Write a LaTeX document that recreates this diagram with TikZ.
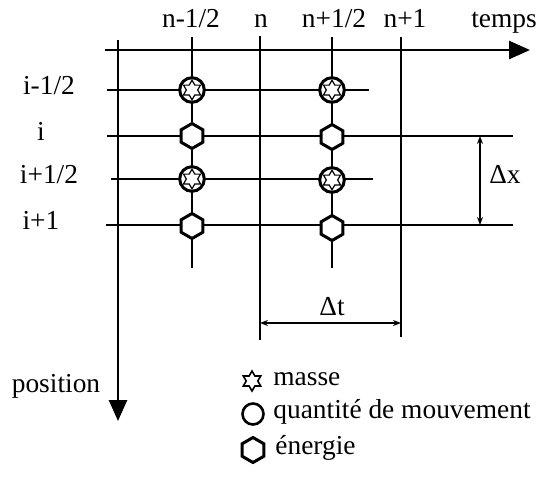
\documentclass[tikz,border=0pt]{standalone}
\usepackage{fontspec}
\setmainfont{Liberation Serif}
\usetikzlibrary{arrows.meta,shapes.geometric}

\begin{document}
\begin{tikzpicture}[
  x=0.5pt, y=-0.5pt, >=Stealth,
  lbl/.style={font=\fontsize{13.7}{16}\selectfont, inner sep=0pt},
  thickline/.style={line width=1.3pt},
  thinline/.style={line width=0.65pt},
  axis/.style={line width=1.3pt, -{Triangle[length=10.5pt, width=9pt]}},
  dimline/.style={line width=0.75pt, {Stealth[length=4pt, width=3pt]}-{Stealth[length=4pt, width=3pt]}},
  qdm/.style={circle, draw, fill=white, line width=1.5pt, minimum size=12.3pt, inner sep=0pt},
  masse/.style={star, star points=6, star point ratio=1.73, draw, line width=0.6pt, minimum size=9.8pt, inner sep=0pt},
  energie/.style={regular polygon, regular polygon sides=6, shape border rotate=30, draw, fill=white, line width=1.5pt, minimum size=12.5pt, inner sep=0pt}
]
  \useasboundingbox (0,0) rectangle (542,479);

  % ==================== AXES ====================
  \coordinate (t0) at (105,50);
  \coordinate (t1) at (530,50);
  \coordinate (p0) at (118,40);
  \coordinate (p1) at (118,421);
  \draw[axis] (t0) -- (t1);
  \draw[axis] (p0) -- (p1);

  % time steps n and n+1
  \coordinate (n0) at (260,36);
  \coordinate (n1) at (260,340);
  \coordinate (np0) at (401,37);
  \coordinate (np1) at (401,337);
  \draw[thickline] (n0) -- (n1);
  \draw[thickline] (np0) -- (np1);

  % half steps
  \draw[thinline] (192,37) -- (192,268);
  \draw[thinline] (332,37) -- (332,268);

  % ==================== POSITIONS ====================
  \draw[thinline] (107,90) -- (369,90);
  \draw[thickline] (107,136) -- (513,136);
  \draw[thinline] (111,179) -- (373,179);
  \draw[thickline] (106,225) -- (513,225);

  % ==================== UNKNOWNS ====================
  % masse + quantite de mouvement (half points)
  \node[qdm] (m1) at (192,90) {};
  \node[masse] (m1s) at (m1.center) {};
  \node[qdm] (m2) at (332,90) {};
  \node[masse] (m2s) at (m2.center) {};
  \node[qdm] (m3) at (192,179) {};
  \node[masse] (m3s) at (m3.center) {};
  \node[qdm] (m4) at (332,180) {};
  \node[masse] (m4s) at (m4.center) {};

  % energie (integer points)
  \node[energie] (e1) at (192,136) {};
  \node[energie] (e2) at (332,137) {};
  \node[energie] (e3) at (192,226) {};
  \node[energie] (e4) at (332,228) {};

  % ==================== LABELS ====================
  \node[lbl, anchor=base] (ln1) at (191,27) {n-1/2};
  \node[lbl, anchor=base] (ln2) at (261,27) {n};
  \node[lbl, anchor=base] (ln3) at (334,27) {n+1/2};
  \node[lbl, anchor=base] (ln4) at (405,27) {n+1};
  \node[lbl, anchor=base] (ltemps) at (504,27) {temps};

  \node[lbl, anchor=mid] (li1) at (49,90) {i-1/2};
  \node[lbl, anchor=mid] (li2) at (41,136) {i};
  \node[lbl, anchor=mid] (li3) at (49,179) {i+1/2};
  \node[lbl, anchor=mid] (li4) at (41,225) {i+1};
  \node[lbl, anchor=mid] (lpos) at (56,388) {position};

  % ==================== STEPS ====================
  \coordinate (dx0) at (480,136);
  \coordinate (dx1) at (480,225);
  \draw[dimline] (dx0) -- (dx1);
  \node[lbl, anchor=mid] (ldx) at (505,179) {Δx};

  \coordinate (dt0) at (260,323);
  \coordinate (dt1) at (401,323);
  \draw[dimline] (dt0) -- (dt1);
  \node[lbl, anchor=base] (ldt) at (332,315) {Δt};

  % ==================== LEGEND ====================
  \node[masse, minimum size=10pt, line width=0.8pt] (lm) at (252,381) {};
  \node[lbl, anchor=mid west] (lmt) at (273,381) {masse};
  \node[qdm, minimum size=10.5pt, line width=1.3pt] (lq) at (253,414) {};
  \node[lbl, anchor=mid west] (lqt) at (273,414) {quantité de mouvement};
  \node[energie, minimum size=12.5pt] (le) at (253,450) {};
  \node[lbl, anchor=mid west] (let) at (275,450) {énergie};

\end{tikzpicture}
\end{document}
